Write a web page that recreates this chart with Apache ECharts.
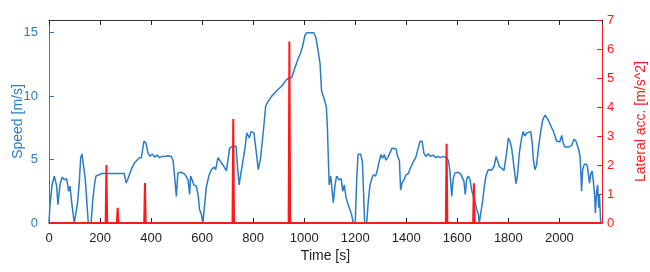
<!DOCTYPE html>
<html>
<head>
<meta charset="utf-8">
<script src="https://cdn.jsdelivr.net/npm/echarts@6/dist/echarts.min.js"></script>
<style>
  html, body { margin: 0; padding: 0; background: #fff; }
  #main { width: 650px; height: 272px; }
</style>
</head>
<body>
<div id="main"></div>
<script>
// speed trace (time in s, speed in m/s)
var speedTime = [0, 4, 12, 21, 25, 30, 35, 43, 51, 60, 69, 77, 82, 90, 99, 105, 112, 119, 124, 129, 135, 142, 149, 154, 165, 171, 179, 184, 190, 197, 206, 217, 295, 302, 308, 315, 325, 334, 343, 354, 362, 372, 380, 388, 396, 404, 414, 424, 433, 443, 453, 466, 479, 486, 492, 499, 505, 518, 532, 538, 545, 551, 555, 560, 568, 577, 584, 590, 597, 603, 610, 616, 626, 636, 647, 653, 662, 668, 675, 686, 695, 701, 708, 720, 733, 738, 745, 751, 759, 768, 775, 785, 792, 803, 811, 820, 829, 840, 849, 859, 873, 892, 912, 931, 942, 951, 964, 977, 986, 994, 1003, 1010, 1038, 1046, 1055, 1062, 1068, 1081, 1087, 1091, 1095, 1098, 1104, 1110, 1114, 1121, 1127, 1137, 1145, 1151, 1157, 1164, 1172, 1179, 1186, 1192, 1200, 1206, 1211, 1221, 1228, 1232, 1237, 1245, 1251, 1258, 1265, 1271, 1280, 1287, 1294, 1301, 1307, 1314, 1320, 1330, 1336, 1344, 1351, 1360, 1366, 1373, 1378, 1383, 1391, 1399, 1408, 1417, 1428, 1437, 1447, 1454, 1462, 1469, 1477, 1486, 1495, 1506, 1516, 1525, 1534, 1545, 1556, 1565, 1571, 1578, 1584, 1591, 1604, 1613, 1620, 1626, 1631, 1637, 1643, 1650, 1656, 1663, 1669, 1676, 1682, 1686, 1693, 1699, 1705, 1712, 1721, 1728, 1734, 1744, 1752, 1757, 1765, 1774, 1783, 1787, 1793, 1800, 1806, 1813, 1819, 1826, 1830, 1836, 1843, 1852, 1858, 1865, 1872, 1878, 1888, 1894, 1898, 1904, 1911, 1918, 1927, 1935, 1944, 1950, 1957, 1963, 1970, 1976, 1983, 1989, 1996, 2002, 2009, 2015, 2022, 2028, 2037, 2048, 2057, 2065, 2074, 2081, 2085, 2087, 2091, 2097, 2105, 2110, 2118, 2123, 2128, 2133, 2138, 2141, 2146, 2150, 2154, 2157, 2162];
var speedValue = [0, 1.45, 3.0, 3.7, 3.8, 2.9, 1.45, 3.0, 3.6, 3.4, 3.5, 2.5, 2.9, 1.45, 0, 0, 1.6, 3.3, 5.1, 5.45, 5.3, 3.5, 1.45, 0, 0, 1.7, 3.15, 3.7, 3.6, 3.8, 3.9, 3.9, 3.9, 3.15, 3.4, 3.8, 4.35, 4.7, 4.9, 5.15, 5.15, 6.45, 6.3, 5.5, 5.25, 5.45, 5.2, 5.35, 5.15, 5.25, 5.25, 5.3, 5.25, 4.95, 3.7, 2.1, 3.95, 4.0, 3.85, 3.95, 3.4, 2.25, 3.7, 3.6, 3.0, 2.9, 2.25, 1.05, 0.7, 0, 1.45, 2.75, 3.7, 4.2, 4.4, 4.2, 5.15, 5.25, 4.75, 4.45, 4.1, 4.0, 5.9, 6.05, 6.05, 4.6, 3.0, 3.8, 4.75, 5.9, 7.1, 6.7, 7.2, 7.1, 5.8, 4.2, 5.1, 7.25, 9.2, 9.6, 10.0, 10.4, 10.8, 11.3, 11.45, 11.45, 12.25, 13.0, 13.4, 13.95, 14.8, 15.0, 15.0, 14.6, 13.5, 12.6, 10.4, 9.6, 9.1, 7.5, 4.85, 3.0, 3.7, 3.8, 1.6, 3.0, 3.7, 3.4, 3.5, 2.5, 3.0, 2.0, 1.45, 1.6, 0.65, 0, 0, 3.55, 5.4, 5.45, 4.85, 2.75, 0, 0, 1.7, 3.0, 3.5, 3.8, 3.7, 4.2, 4.85, 5.4, 5.1, 5.4, 4.95, 5.25, 5.1, 5.9, 5.8, 5.85, 5.25, 4.95, 2.6, 3.15, 3.4, 3.8, 3.9, 4.35, 4.85, 5.15, 5.9, 6.45, 6.45, 5.5, 5.25, 5.45, 5.25, 5.35, 5.15, 5.25, 5.15, 5.25, 5.15, 4.95, 4.1, 2.1, 3.5, 3.95, 4.0, 3.85, 3.95, 3.3, 2.25, 3.5, 3.7, 3.4, 2.6, 2.75, 1.7, 1.05, 0.75, 0, 0, 1.7, 2.75, 3.7, 4.2, 4.35, 4.15, 4.45, 5.25, 4.95, 4.45, 4.3, 4.15, 4.1, 5.5, 6.7, 6.45, 5.9, 5.9, 3.8, 3.1, 3.8, 5.5, 6.7, 7.2, 6.85, 7.1, 7.05, 7.2, 6.2, 5.0, 4.2, 4.6, 5.9, 7.25, 8.15, 8.5, 8.45, 8.1, 8.0, 7.5, 7.25, 6.85, 6.45, 6.5, 6.4, 6.9, 6.3, 6.0, 6.1, 6.0, 6.1, 6.6, 6.45, 5.9, 5.25, 3.55, 2.5, 4.2, 4.6, 4.65, 4.45, 3.15, 3.85, 4.1, 3.3, 2.25, 0.8, 2.5, 3.0, 1.2, 2.25, 0];

// lateral acceleration peaks (time in s, m/s^2)
var accTime = [225, 269, 376, 722, 942, 1558, 1665];
var accValue = [2.0, 0.52, 1.38, 3.59, 6.26, 2.73, 1.37];

var xTicks = 200;
var timeMax = 2167;

var blue = '#2a7cc7';
var red = '#ff1a1a';

var speedData = [];
for (var i = 0; i < speedTime.length; i++) {
	speedData.push([speedTime[i], speedValue[i]]);
}

// spikes: zero baseline with a narrow peak at each event
var accData = [[0, 0]];
for (var j = 0; j < accTime.length; j++) {
	accData.push([accTime[j] - 3, 0]);
	accData.push([accTime[j], accValue[j]]);
	accData.push([accTime[j] + 3, 0]);
}
accData.push([timeMax, 0]);

var chart = echarts.init(document.getElementById('main'));
var font = 'Liberation Sans, Arial, sans-serif';
var plain = function (v) { return String(v); };

var option = {
	animation: false,
	grid: { left: 49, right: 48, top: 20, bottom: 49, containLabel: false, outerBoundsMode: 'none' },
	xAxis: [{
		type: 'value',
		min: 0,
		max: timeMax,
		interval: xTicks,
		name: 'Time [s]',
		nameLocation: 'middle',
		nameGap: 26,
		nameMoveOverlap: false,
		nameTextStyle: { color: '#222', fontSize: 14, fontFamily: font },
		axisLine: { onZero: false, lineStyle: { color: '#333', width: 1 } },
		axisTick: { inside: true, length: 5, lineStyle: { color: '#222' } },
		axisLabel: { color: '#222', fontSize: 13, fontFamily: font, margin: 9, showMaxLabel: false, formatter: plain },
		splitLine: { show: false }
	}, {
		type: 'value',
		position: 'top',
		min: 0,
		max: timeMax,
		interval: xTicks,
		axisLine: { show: true, onZero: false, lineStyle: { color: '#333', width: 1 } },
		axisTick: { inside: true, length: 5, lineStyle: { color: '#222' } },
		axisLabel: { show: false },
		splitLine: { show: false }
	}],
	yAxis: [{
		type: 'value',
		min: 0,
		max: 16,
		interval: 5,
		name: 'Speed [m/s]',
		nameLocation: 'middle',
		nameGap: 24,
		nameMoveOverlap: false,
		nameTextStyle: { color: blue, fontSize: 14, fontFamily: font },
		axisLine: { show: true, onZero: false, lineStyle: { color: blue, width: 1 } },
		axisTick: { show: true, inside: true, length: 5, lineStyle: { color: blue } },
		axisLabel: { color: blue, fontSize: 13, fontFamily: font, margin: 11, showMaxLabel: false },
		splitLine: { show: false }
	}, {
		type: 'value',
		position: 'right',
		min: 0,
		max: 7,
		interval: 1,
		name: 'Lateral acc. [m/s^2]',
		nameLocation: 'middle',
		nameGap: 32,
		nameRotate: 90,
		nameMoveOverlap: false,
		nameTextStyle: { color: red, fontSize: 14, fontFamily: font },
		axisLine: { show: true, onZero: false, lineStyle: { color: red, width: 1 } },
		axisTick: { show: true, inside: true, length: 5, lineStyle: { color: red } },
		axisLabel: { color: red, fontSize: 13, fontFamily: font, margin: 5 },
		splitLine: { show: false }
	}],
	series: [{
		name: 'Speed',
		type: 'line',
		xAxisIndex: 0,
		yAxisIndex: 0,
		data: speedData,
		showSymbol: false,
		lineStyle: { color: blue, width: 1.5 },
		itemStyle: { color: blue }
	}, {
		name: 'Lateral acc.',
		type: 'line',
		xAxisIndex: 0,
		yAxisIndex: 1,
		data: accData,
		showSymbol: false,
		lineStyle: { color: red, width: 2 },
		itemStyle: { color: red }
	}]
};
chart.setOption(option);
</script>
</body>
</html>
